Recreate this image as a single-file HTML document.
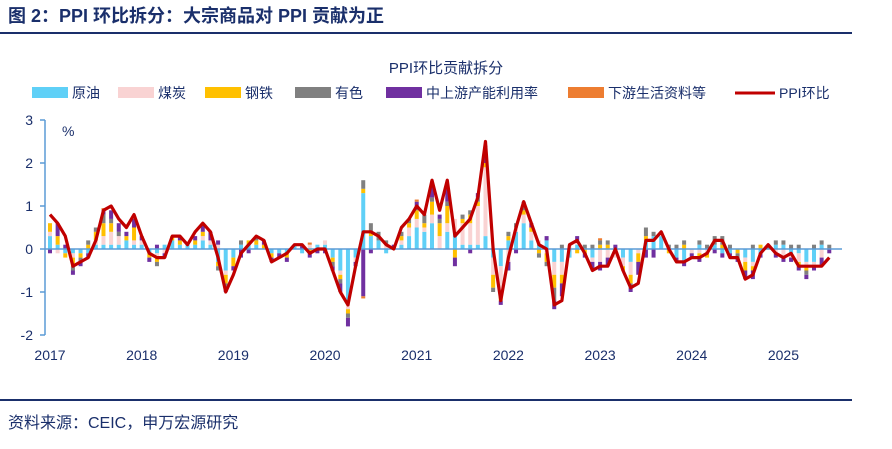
<!DOCTYPE html>
<html><head><meta charset="utf-8"><style>
body{margin:0;background:#fff;}
svg text{font-family:"Liberation Sans","Noto Sans CJK SC",sans-serif;}
</style></head><body>
<svg id="c" width="892" height="444" xmlns="http://www.w3.org/2000/svg">
<text x="8" y="22" font-size="18" font-weight="bold" fill="#1a2f6b">图 2：PPI 环比拆分：大宗商品对 PPI 贡献为正</text>
<line x1="0" y1="33" x2="852" y2="33" stroke="#1a2f6b" stroke-width="2"/>
<text x="446" y="73" font-size="15" fill="#1a2f6b" text-anchor="middle">PPI环比贡献拆分</text>
<g id="legend"></g>
<g id="plot"></g>
<line x1="0" y1="400" x2="852" y2="400" stroke="#1a2f6b" stroke-width="2"/>
<text x="8" y="428" font-size="16" fill="#1a2f6b">资料来源：CEIC，申万宏源研究</text>
</svg>
<script>
const seriesNames=["原油","煤炭","钢铁","有色","中上游产能利用率","下游生活资料等"];
const yTicks=[3,2,1,0,-1,-2];
const xYears=["2017","2018","2019","2020","2021","2022","2023","2024","2025"];
const ppi=[0.8,0.6,0.3,-0.4,-0.3,-0.2,0.2,0.9,1.0,0.7,0.5,0.8,
0.3,-0.1,-0.2,-0.2,0.3,0.3,0.1,0.4,0.6,0.4,-0.2,-1.0,
-0.6,-0.1,0.1,0.3,0.2,-0.3,-0.2,-0.1,0.1,0.1,-0.1,0.0,
0.0,-0.5,-1.0,-1.3,-0.4,0.4,0.4,0.3,0.1,0.0,0.5,0.7,
1.0,0.8,1.6,0.9,1.6,0.3,0.5,0.7,1.2,2.5,0.0,-1.2,
-0.2,0.5,1.1,0.6,0.1,0.0,-1.3,-1.2,0.1,0.2,-0.1,-0.5,
-0.4,-0.4,0.0,-0.5,-0.9,-0.8,0.2,0.2,0.4,0.0,-0.3,-0.3,
-0.2,-0.2,-0.1,0.2,0.2,-0.2,-0.2,-0.7,-0.6,-0.1,0.1,-0.1,
-0.2,-0.1,-0.4,-0.4,-0.4,-0.4,-0.2];
const oil=[0.3,0.1,-0.1,-0.1,-0.1,-0.1,0.1,0.1,0.1,0.1,0.2,0.1,
0.1,-0.1,-0.1,0.1,0.2,0.1,0.1,0.1,0.2,0.1,-0.3,-0.5,
-0.2,0.1,0.1,0.1,0.0,-0.1,-0.1,-0.1,0.1,-0.1,0.0,0.1,
0.1,-0.2,-0.5,-1.2,-0.2,1.3,0.3,0.2,-0.1,0.0,0.1,0.3,
0.5,0.4,0.6,0.0,0.4,0.4,0.1,0.1,0.1,0.3,-0.2,-0.4,
0.2,0.4,0.6,0.2,0.1,0.2,-0.3,-0.3,-0.2,0.1,0.0,-0.2,
0.0,0.0,-0.1,-0.2,-0.3,0.0,0.2,0.3,0.3,0.0,-0.2,-0.3,
0.0,0.1,0.0,0.1,-0.1,-0.1,0.0,-0.2,-0.3,-0.1,0.0,0.1,
0.1,-0.1,-0.1,-0.3,-0.3,0.1,0.0];
const coal=[0.1,-0.1,0.0,-0.1,0.0,0.0,0.1,0.2,0.3,0.2,0.0,0.1,
0.1,0.0,-0.1,-0.1,0.0,0.0,0.0,0.0,0.1,0.1,0.1,-0.1,
0.0,0.0,0.0,0.0,0.0,0.0,0.0,0.0,0.0,0.0,0.1,0.0,
0.1,0.0,-0.1,-0.2,-0.1,0.0,0.0,0.0,0.1,0.0,0.1,0.2,
0.2,0.1,0.2,0.3,0.2,0.3,0.5,0.5,0.9,1.6,-0.4,-0.6,
-0.3,0.1,0.2,0.2,0.1,-0.1,-0.3,-0.3,0.1,0.1,0.0,-0.1,
-0.3,-0.2,-0.1,-0.2,-0.3,-0.1,0.0,0.0,0.1,0.0,0.0,0.0,
-0.1,-0.1,-0.1,0.0,0.0,0.0,0.0,-0.1,-0.1,0.0,0.0,-0.1,
-0.2,-0.1,-0.2,-0.1,-0.1,-0.2,0.0];
const steel=[0.2,0.2,-0.1,-0.2,-0.1,0.1,0.2,0.3,0.2,0.0,0.1,0.3,
0.0,-0.1,-0.1,0.0,0.1,0.1,0.0,0.1,0.1,0.0,-0.1,-0.2,
-0.2,0.0,0.1,0.1,0.1,-0.1,0.0,-0.1,0.0,0.0,-0.1,0.0,
0.0,-0.1,-0.1,-0.1,0.0,0.1,0.1,0.0,0.0,0.0,0.1,0.1,
0.2,0.1,0.3,0.3,0.4,-0.2,0.1,0.2,0.1,0.1,-0.3,-0.2,
0.1,0.0,0.1,0.1,-0.1,-0.2,-0.3,-0.2,0.0,-0.1,-0.1,0.0,
0.1,0.1,0.0,-0.1,-0.2,-0.2,0.1,0.0,0.0,-0.1,0.0,0.1,
0.0,-0.1,-0.1,0.0,0.1,0.0,-0.1,-0.2,-0.1,0.1,0.0,0.0,
0.0,0.0,-0.1,-0.1,0.0,0.0,0.0];
const nonferrous=[0.0,0.0,0.0,-0.1,-0.1,0.1,0.1,0.2,0.1,0.1,0.0,0.0,
0.0,0.0,-0.1,0.0,0.0,0.0,0.0,0.0,0.0,0.0,-0.1,-0.1,
0.0,0.1,0.0,0.1,0.0,0.0,0.0,0.0,0.0,0.0,0.0,0.0,
0.0,-0.1,-0.1,-0.1,0.0,0.2,0.2,0.2,0.1,0.0,0.1,0.1,
0.1,0.2,0.1,0.1,0.1,0.0,0.1,0.1,0.1,0.0,-0.1,0.0,
0.1,0.1,0.1,0.0,-0.1,-0.1,-0.3,0.1,0.0,0.0,0.1,0.1,
0.1,0.1,0.0,0.0,-0.1,0.0,0.2,0.1,0.0,0.1,0.1,0.1,
0.0,0.1,0.1,0.2,0.2,0.1,-0.1,0.0,0.1,0.0,0.1,0.1,
0.1,0.1,0.1,-0.1,0.1,0.1,0.1];
const midstream=[-0.1,0.3,0.1,-0.1,-0.1,-0.1,0.0,0.1,0.2,0.2,0.1,0.2,
0.1,-0.1,0.1,-0.1,0.0,0.1,0.0,0.1,0.2,0.2,0.1,-0.1,
-0.1,-0.2,-0.1,0.0,0.1,-0.1,-0.1,-0.1,0.0,0.1,-0.1,-0.1,
-0.1,-0.1,-0.2,-0.2,-0.1,-1.1,-0.1,0.0,0.0,0.1,0.0,0.0,
0.1,0.0,0.3,0.1,0.4,-0.2,0.0,-0.1,0.1,0.4,0.0,-0.1,
-0.2,-0.1,0.1,0.1,0.0,0.1,-0.2,-0.3,0.0,0.1,-0.1,-0.2,
-0.2,-0.2,0.1,0.0,-0.1,-0.3,-0.2,-0.2,0.0,0.0,-0.1,-0.1,
-0.1,-0.1,0.0,-0.1,-0.1,-0.1,-0.1,-0.2,-0.2,-0.1,0.0,-0.1,
-0.1,-0.1,-0.1,-0.1,-0.1,-0.2,-0.1];
const downstream=[0,0,0,0,0,0,0,0.05,0,0,0,0, 0,0,0,0,0,0,0,0,0,0,0,0, 0,0,0,0,0,0,0,0,0,0,0.05,0,
0,0,0,0,0,-0.05,0,0,0,0,0,0, 0.05,0,0,0,0,0,0,0,0,0,0,0, 0,0,0,0,0,0,0,0,0,0,0,0,
0.05,0,0,0,0,0,0,0,0,0,0,0, 0,0,0,0,0,0,0,0,0,0,0,0, 0,0,0,0,0,0,0];
const colors=["#5fd0f7","#f9d3d3","#ffc000","#808080","#7030a0","#ed7d31"];
const NS="http://www.w3.org/2000/svg";
const X0=50,DX=7.64,Y0=249,UY=43;
const xs=i=>X0+i*DX, ys=v=>Y0-v*UY;
function mk(t,a,p){const e=document.createElementNS(NS,t);for(const k in a)e.setAttribute(k,a[k]);p.appendChild(e);return e;}
const plot=document.getElementById('plot'),leg=document.getElementById('legend');
const legX=[32,118,205,295,386,568];
seriesNames.forEach((n,k)=>{
 const r=mk('rect',{x:legX[k],y:87,width:36,height:11,fill:colors[k]},leg);
 
 
 const t=mk('text',{x:legX[k]+40,y:98,'font-size':14,fill:'#1a2f6b'},leg);t.textContent=n;
 
 
});
const ll=mk('line',{x1:735,y1:93,x2:775,y2:93,stroke:'#c00000','stroke-width':3},leg);


const lt=mk('text',{x:779,y:98,'font-size':14,fill:'#1a2f6b'},leg);lt.textContent="PPI环比";


mk('line',{x1:45,y1:ys(3),x2:45,y2:ys(-2),stroke:'#5b9bd5','stroke-width':1.5},plot);
yTicks.forEach(v=>{
 mk('line',{x1:40,y1:ys(v),x2:45,y2:ys(v),stroke:'#5b9bd5','stroke-width':1.5},plot);
 const t=mk('text',{x:33,y:ys(v)+5,'font-size':14,fill:'#1a2f6b','text-anchor':'end'},plot);t.textContent=v;
 
 
});
const pc=mk('text',{x:62,y:136,'font-size':14,fill:'#1a2f6b'},plot);pc.textContent="%";


xYears.forEach((y,k)=>{
 const t=mk('text',{x:xs(k*12),y:360,'font-size':14,fill:'#1a2f6b','text-anchor':'middle'},plot);t.textContent=y;
 
 
});
const data=[oil,coal,steel,nonferrous,midstream,downstream];
ppi.forEach((_,i)=>{
 let pos=0,neg=0;
 data.forEach((s,k)=>{
  const v=s[i];if(!v)return;
  let y0,y1;
  if(v>0){y0=pos;y1=pos+v;pos=y1;}else{y0=neg;y1=neg+v;neg=y1;}
  const r=mk('rect',{x:xs(i)-2,y:Math.min(ys(y0),ys(y1)),width:4,height:Math.abs(ys(y0)-ys(y1)),fill:colors[k]},plot);
  
  
 });
});
mk('line',{x1:45,y1:Y0,x2:842,y2:Y0,stroke:'#5b9bd5','stroke-width':1.5},plot);
const ln=mk('polyline',{points:ppi.map((v,i)=>xs(i)+','+ys(v)).join(' '),fill:'none',stroke:'#c00000','stroke-width':3.2,'stroke-linejoin':'round'},plot);


</script>
</body></html>
